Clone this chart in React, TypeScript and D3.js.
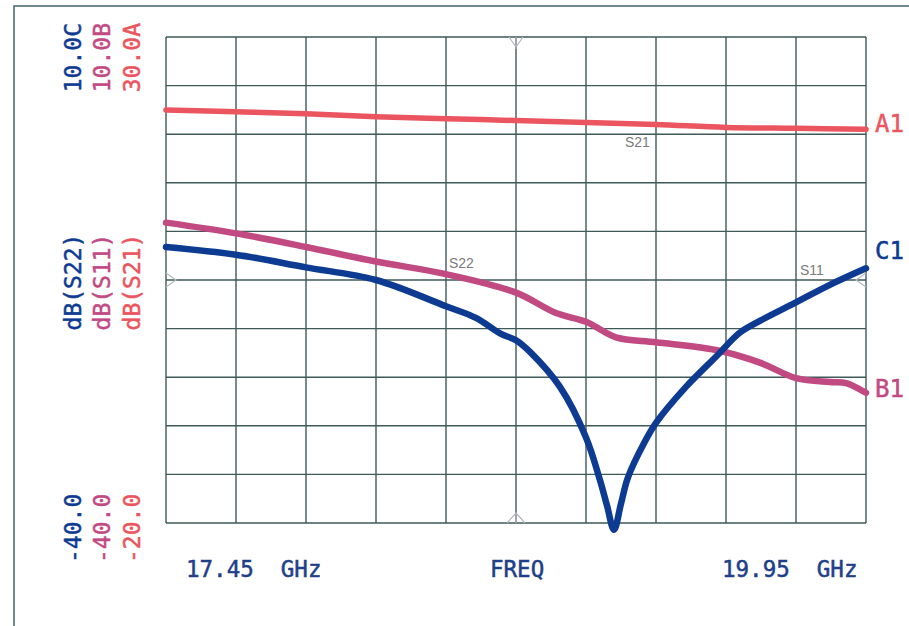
import React, { useEffect, useRef } from "react";
import * as d3 from "d3";

// S21 (trace A), scale -20..30 dB
const freqA = [17.45, 17.7, 17.95, 18.2, 18.45, 18.7, 18.95, 19.2, 19.45, 19.7, 19.95];
const s21 = [22.5, 22.3, 22.1, 21.8, 21.6, 21.4, 21.2, 21.0, 20.7, 20.6, 20.5];

// S11 (trace B), scale -40..10 dB
const freqB = [17.45, 17.7, 17.95, 18.2, 18.45, 18.7, 18.843, 18.95, 19.057, 19.2, 19.414, 19.571, 19.7, 19.821, 19.879, 19.95];
const s11 = [-9.1, -10.2, -11.6, -13.1, -14.4, -16.3, -18.4, -19.3, -20.9, -21.4, -22.2, -23.5, -25.1, -25.5, -25.6, -26.6];

// S22 (trace C), scale -40..10 dB
const freqC = [17.45, 17.7, 17.95, 18.2, 18.45, 18.557, 18.643, 18.7, 18.75, 18.857, 18.95, 19.0, 19.025, 19.05, 19.075, 19.1, 19.157, 19.2, 19.307, 19.414, 19.5, 19.571, 19.7, 19.821, 19.95];
const s22 = [-11.6, -12.4, -13.7, -15.0, -17.7, -18.9, -20.5, -21.2, -22.4, -26.0, -31.2, -35.6, -38.2, -40.7, -38.0, -35.3, -31.8, -29.7, -26.0, -22.9, -20.4, -19.2, -17.3, -15.5, -13.8];

const xLabels = ["17.45  GHz", "FREQ", "19.95  GHz"];
const scaleTop = ["10.0C", "10.0B", "30.0A"];
const scaleMid = ["dB(S22)", "dB(S11)", "dB(S21)"];
const scaleBot = ["-40.0", "-40.0", "-20.0"];
const colors = ["#0e3b92", "#c24a83", "#ea5560"];

const W = 909;
const H = 626;
const L = 166, R = 866, T = 37, B = 523;
const mono = '"DejaVu Sans Mono", monospace';

const App = () => {
  const ref = useRef<SVGSVGElement>(null);

  useEffect(() => {
    const svg = d3.select(ref.current);
    svg.selectAll("*").remove();

    const x = d3.scaleLinear().domain([17.45, 19.95]).range([L, R]);
    const yA = d3.scaleLinear().domain([-20, 30]).range([B, T]);
    const yBC = d3.scaleLinear().domain([-40, 10]).range([B, T]);

    svg.append("rect").attr("width", W).attr("height", H).attr("fill", "#fff");
    // outer frame
    svg.append("rect")
      .attr("x", 14).attr("y", 6).attr("width", 920).attr("height", 640)
      .attr("fill", "none").attr("stroke", "#46606a").attr("stroke-width", 1.5);

    // grid
    const grid = svg.append("g").attr("stroke", "#3f5858").attr("stroke-width", 1.4);
    const gx = d3.range(11).map((i) => L + (i * (R - L)) / 10);
    const gy = d3.range(11).map((i) => T + (i * (B - T)) / 10);
    grid.selectAll("line.v").data(gx).join("line")
      .attr("x1", (d) => d).attr("x2", (d) => d).attr("y1", T).attr("y2", B);
    grid.selectAll("line.h").data(gy).join("line")
      .attr("x1", L).attr("x2", R).attr("y1", (d) => d).attr("y2", (d) => d);

    // reference markers
    const mk = svg.append("g").attr("fill", "none").attr("stroke", "#b4b8bc").attr("stroke-width", 1.2);
    const midX = (L + R) / 2, midY = T + 5 * (B - T) / 10;
    mk.append("path").attr("d", `M${midX - 7},${T} L${midX},${T + 10} L${midX + 7},${T} M${midX},${T} V${T + 12}`);
    mk.append("path").attr("d", `M${midX - 9},${B} L${midX},${B - 10} L${midX + 9},${B} M${midX},${B} V${B - 10}`);
    mk.append("path").attr("d", `M${L},${midY - 7} L${L + 10},${midY} L${L},${midY + 7}`);
    mk.append("path").attr("d", `M${R},${midY - 7} L${R - 10},${midY} L${R},${midY + 7}`);

    // traces
    const drawTrace = (fs: number[], vs: number[], ys: d3.ScaleLinear<number, number>, color: string, w: number) => {
      const line = d3.line<number>().x((_, i) => x(fs[i])).y((d) => ys(d)).curve(d3.curveCatmullRom.alpha(0.5));
      svg.append("path").datum(vs).attr("d", line)
        .attr("fill", "none").attr("stroke", color).attr("stroke-width", w)
        .attr("stroke-linejoin", "round").attr("stroke-linecap", "round");
    };
    drawTrace(freqA, s21, yA, colors[2], 5.5);
    drawTrace(freqB, s11, yBC, colors[1], 6.5);
    drawTrace(freqC, s22, yBC, colors[0], 6.5);

    // trace names
    const tn = svg.append("g").attr("fill", "#7a7a7a").attr("font-family", '"Liberation Sans", Arial, sans-serif').attr("font-size", 14);
    tn.append("text").attr("x", 625).attr("y", 147).text("S21");
    tn.append("text").attr("x", 449).attr("y", 268).text("S22");
    tn.append("text").attr("x", 800).attr("y", 275).text("S11");

    // end labels
    const el = svg.append("g").attr("font-family", mono).attr("font-size", 24).attr("stroke-width", 0.5);
    el.append("text").attr("x", 875).attr("y", 132).attr("fill", colors[2]).attr("stroke", colors[2]).text("A1");
    el.append("text").attr("x", 875).attr("y", 259).attr("fill", colors[0]).attr("stroke", colors[0]).text("C1");
    el.append("text").attr("x", 875).attr("y", 397).attr("fill", colors[1]).attr("stroke", colors[1]).text("B1");

    // vertical scale labels
    const bx = [81, 110, 140];
    bx.forEach((bxi, i) => {
      const g = svg.append("g").attr("font-family", mono).attr("font-size", 23)
        .attr("fill", colors[i]).attr("stroke", colors[i]).attr("stroke-width", 0.5);
      g.append("text").attr("transform", `translate(${bxi},23) rotate(-90)`).attr("text-anchor", "end").text(scaleTop[i]);
      g.append("text").attr("transform", `translate(${bxi},282) rotate(-90)`).attr("text-anchor", "middle").text(scaleMid[i]);
      g.append("text").attr("transform", `translate(${bxi},563) rotate(-90)`).attr("text-anchor", "start").text(scaleBot[i]);
    });

    // frequency labels
    const fl = svg.append("g").attr("font-family", mono).attr("font-size", 22.5)
      .attr("fill", "#1f3f88").attr("stroke", "#1f3f88").attr("stroke-width", 0.5);
    fl.append("text").attr("x", 186).attr("y", 577).style("white-space", "pre").text(xLabels[0]);
    fl.append("text").attr("x", 490).attr("y", 577).text(xLabels[1]);
    fl.append("text").attr("x", 722).attr("y", 577).style("white-space", "pre").text(xLabels[2]);
  }, []);

  return (
    <svg ref={ref} width={W} height={H} style={{ position: "absolute", left: 0, top: 0, display: "block" }} />
  );
};

export default App;
